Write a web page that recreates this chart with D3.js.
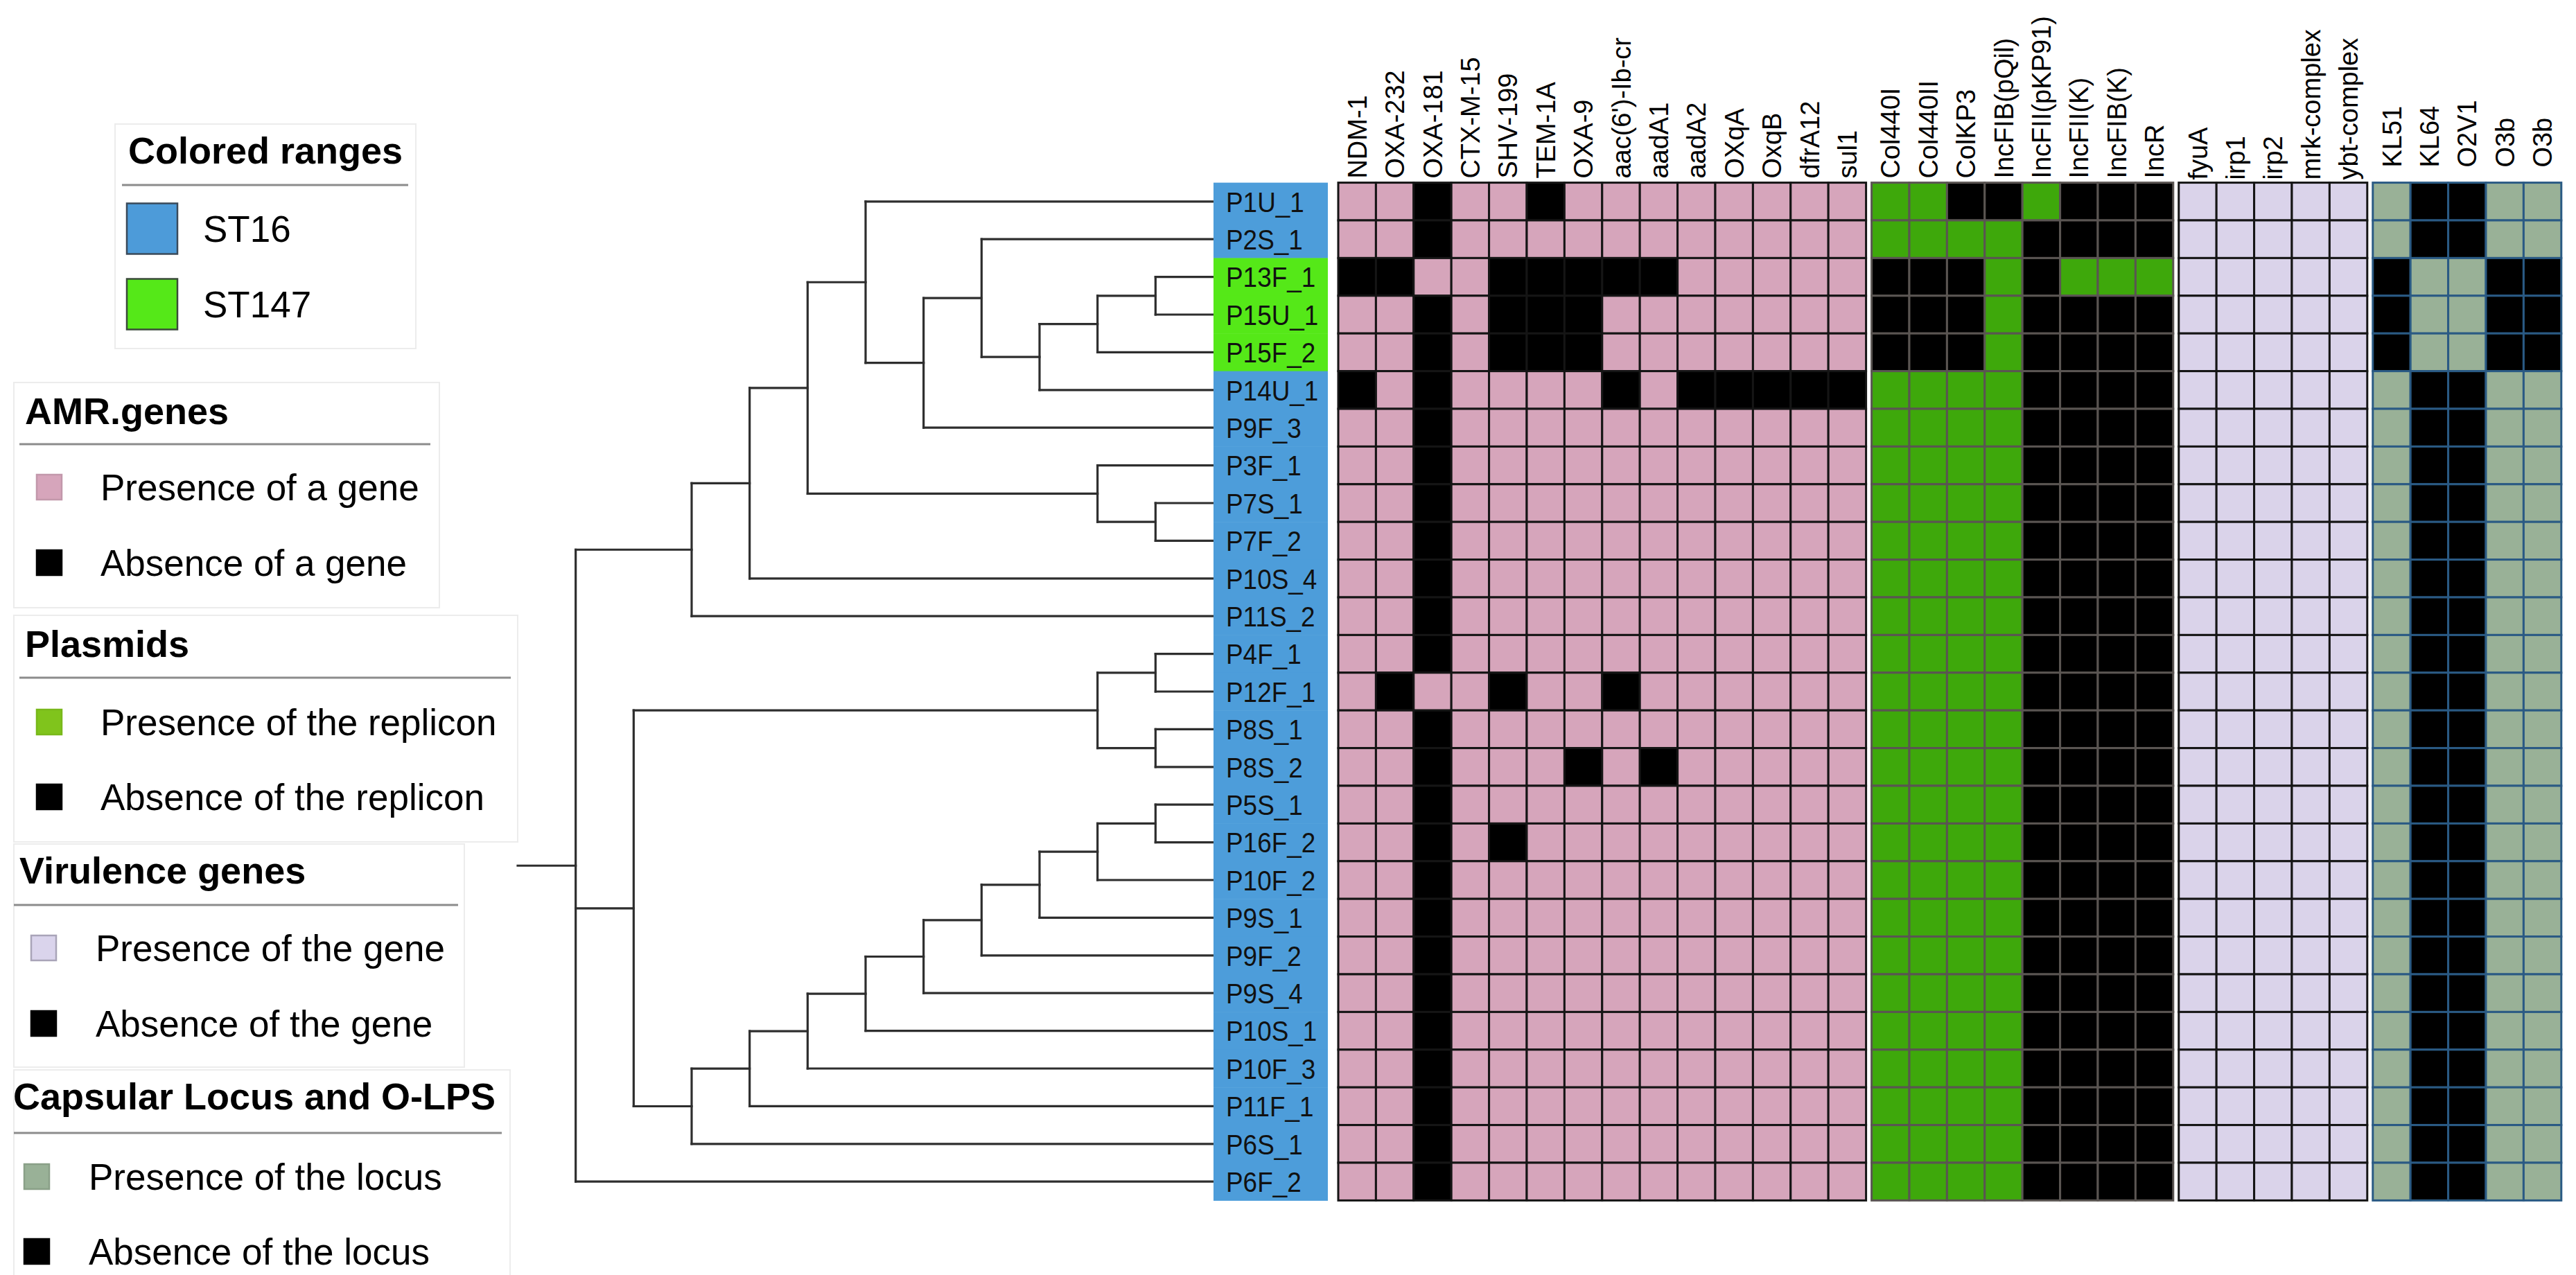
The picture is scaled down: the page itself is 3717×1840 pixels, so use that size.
<!DOCTYPE html>
<html>
<head>
<meta charset="utf-8">
<script src="https://cdn.jsdelivr.net/npm/d3@7"></script>
<style>
body{margin:0;background:#fff;}
svg{display:block;font-family:"Liberation Sans",Arial,Helvetica,sans-serif;}
</style>
</head>
<body>
<div id="chart"></div>
<script>
// ---- data ----
const samples = ["P1U_1","P2S_1","P13F_1","P15U_1","P15F_2","P14U_1","P9F_3","P3F_1","P7S_1","P7F_2",
  "P10S_4","P11S_2","P4F_1","P12F_1","P8S_1","P8S_2","P5S_1","P16F_2","P10F_2","P9S_1","P9F_2",
  "P9S_4","P10S_1","P10F_3","P11F_1","P6S_1","P6F_2"];
const st147 = ["P13F_1","P15U_1","P15F_2"];

// tree topology (cladogram, tips in the order of samples)
const cladeTop = "((((P1U_1,((P2S_1,(((P13F_1,P15U_1),P15F_2),P14U_1)),P9F_3)),(P3F_1,(P7S_1,P7F_2))),P10S_4),P11S_2)";
const cladeBottom = "(((P4F_1,P12F_1),(P8S_1,P8S_2)),(((((((((P5S_1,P16F_2),P10F_2),P9S_1),P9F_2),P9S_4),P10S_1),P10F_3),P11F_1),P6S_1))";
const treeNewick = "(" + cladeTop + "," + cladeBottom + ",P6F_2);";

const amrGenes = ["NDM-1","OXA-232","OXA-181","CTX-M-15","SHV-199","TEM-1A","OXA-9","aac(6')-Ib-cr","aadA1","aadA2","OXqA","OxqB","dfrA12","sul1"];
const amrData = [
  [1,1,0,1,1,0,1,1,1,1,1,1,1,1],
  [1,1,0,1,1,1,1,1,1,1,1,1,1,1],
  [0,0,1,1,0,0,0,0,0,1,1,1,1,1],
  [1,1,0,1,0,0,0,1,1,1,1,1,1,1],
  [1,1,0,1,0,0,0,1,1,1,1,1,1,1],
  [0,1,0,1,1,1,1,0,1,0,0,0,0,0],
  [1,1,0,1,1,1,1,1,1,1,1,1,1,1],
  [1,1,0,1,1,1,1,1,1,1,1,1,1,1],
  [1,1,0,1,1,1,1,1,1,1,1,1,1,1],
  [1,1,0,1,1,1,1,1,1,1,1,1,1,1],
  [1,1,0,1,1,1,1,1,1,1,1,1,1,1],
  [1,1,0,1,1,1,1,1,1,1,1,1,1,1],
  [1,1,0,1,1,1,1,1,1,1,1,1,1,1],
  [1,0,1,1,0,1,1,0,1,1,1,1,1,1],
  [1,1,0,1,1,1,1,1,1,1,1,1,1,1],
  [1,1,0,1,1,1,0,1,0,1,1,1,1,1],
  [1,1,0,1,1,1,1,1,1,1,1,1,1,1],
  [1,1,0,1,0,1,1,1,1,1,1,1,1,1],
  [1,1,0,1,1,1,1,1,1,1,1,1,1,1],
  [1,1,0,1,1,1,1,1,1,1,1,1,1,1],
  [1,1,0,1,1,1,1,1,1,1,1,1,1,1],
  [1,1,0,1,1,1,1,1,1,1,1,1,1,1],
  [1,1,0,1,1,1,1,1,1,1,1,1,1,1],
  [1,1,0,1,1,1,1,1,1,1,1,1,1,1],
  [1,1,0,1,1,1,1,1,1,1,1,1,1,1],
  [1,1,0,1,1,1,1,1,1,1,1,1,1,1],
  [1,1,0,1,1,1,1,1,1,1,1,1,1,1]
];

const plasmids = ["Col440I","Col440II","ColKP3","IncFIB(pQil)","IncFII(pKP91)","IncFII(K)","IncFIB(K)","IncR"];
const plasmidData = [
  [1,1,0,0,1,0,0,0],
  [1,1,1,1,0,0,0,0],
  [0,0,0,1,0,1,1,1],
  [0,0,0,1,0,0,0,0],
  [0,0,0,1,0,0,0,0],
  [1,1,1,1,0,0,0,0],[1,1,1,1,0,0,0,0],[1,1,1,1,0,0,0,0],[1,1,1,1,0,0,0,0],[1,1,1,1,0,0,0,0],
  [1,1,1,1,0,0,0,0],[1,1,1,1,0,0,0,0],[1,1,1,1,0,0,0,0],[1,1,1,1,0,0,0,0],[1,1,1,1,0,0,0,0],
  [1,1,1,1,0,0,0,0],[1,1,1,1,0,0,0,0],[1,1,1,1,0,0,0,0],[1,1,1,1,0,0,0,0],[1,1,1,1,0,0,0,0],
  [1,1,1,1,0,0,0,0],[1,1,1,1,0,0,0,0],[1,1,1,1,0,0,0,0],[1,1,1,1,0,0,0,0],[1,1,1,1,0,0,0,0],
  [1,1,1,1,0,0,0,0],[1,1,1,1,0,0,0,0]
];

const virulence = ["fyuA","irp1","irp2","mrk-complex","ybt-complex"];
const virulenceData = samples.map(() => [1,1,1,1,1]);

const locus = ["KL51","KL64","O2V1","O3b","O3b"];
const locusST16 = [1,0,0,1,1];
const locusST147 = [0,1,1,0,0];
const locusData = samples.map(s => st147.includes(s) ? locusST147 : locusST16);

const legendTitles = ["Colored ranges","AMR.genes","Plasmids","Virulence genes","Capsular Locus and O-LPS"];
const legendItems = [
  ["ST16","ST147"],
  ["Presence of a gene","Absence of a gene"],
  ["Presence of the replicon","Absence of the replicon"],
  ["Presence of the gene","Absence of the gene"],
  ["Presence of the locus","Absence of the locus"]
];

// ---- layout ----
const width = 3717, height = 1840;
const cell = 54.4;
const heatTop = 263.6;
const stripX = 1751, stripW = 165;
const heatX = 1931, blockGap = 8;

const svg = d3.select("#chart").append("svg")
  .attr("width", width).attr("height", height)
  .attr("viewBox", [0, 0, width, height]);

const y = d3.scaleBand()
  .domain(samples)
  .range([heatTop, heatTop + samples.length * cell]);

// ---- tree ----
function parseNewick(s) {
  let i = 0;
  function node() {
    const n = {};
    if (s[i] === "(") {
      n.children = [];
      i++;
      n.children.push(node());
      while (s[i] === ",") { i++; n.children.push(node()); }
      i++; // ')'
    }
    let name = "";
    while (i < s.length && !",();".includes(s[i])) name += s[i++];
    n.name = name;
    return n;
  }
  return node();
}

const root = d3.hierarchy(parseNewick(treeNewick));
const tx = d3.scaleLinear().domain([root.height + 1, 0]).range([747, stripX]);

root.eachAfter(n => {
  n.px = tx(n.height);
  n.py = n.children
    ? (n.children[0].py + n.children[n.children.length - 1].py) / 2
    : y(n.data.name) + y.bandwidth() / 2;
});

const treeG = svg.append("g")
  .attr("fill", "none")
  .attr("stroke", "#2e2e2e")
  .attr("stroke-width", 3.2)
  .attr("stroke-linecap", "square");

// root stub
treeG.append("path").attr("d", `M${tx(root.height + 1)},${root.py}H${root.px}`);

root.descendants().filter(n => n.children).forEach(n => {
  const c = n.children;
  treeG.append("path").attr("d", `M${n.px},${c[0].py}V${c[c.length - 1].py}`);
  c.forEach(ch => treeG.append("path").attr("d", `M${n.px},${ch.py}H${ch.px}`));
});

// ---- sample label strip ----
const strip = svg.append("g");
strip.selectAll("rect")
  .data(samples)
  .join("rect")
    .attr("x", stripX)
    .attr("y", d => y(d))
    .attr("width", stripW)
    .attr("height", y.bandwidth() + 0.5)
    .attr("fill", d => st147.includes(d) ? "#55e818" : "#4d9dda");

strip.selectAll("text")
  .data(samples)
  .join("text")
    .attr("transform", d => `translate(${stripX + 18},${y(d) + y.bandwidth() / 2}) scale(0.9,1)`)
    .attr("dy", "0.36em")
    .attr("font-size", 41)
    .attr("fill", "#111")
    .text(d => d);

// ---- heatmap blocks ----
const blocks = [
  {cols: amrGenes, data: amrData, on: "#d6a5bb", grid: "#151515", labelGap: 6},
  {cols: plasmids, data: plasmidData, on: "#3ea80b", grid: "#5a5552", labelGap: 6},
  {cols: virulence, data: virulenceData, on: "#dad3ea", grid: "#151515", labelGap: 4},
  {cols: locus, data: locusData, on: "#99b197", grid: "#2a5a84", labelGap: 22}
];

let bx = heatX;
blocks.forEach(b => {
  const x = d3.scaleBand()
    .domain(d3.range(b.cols.length))
    .range([bx, bx + b.cols.length * cell]);
  bx += b.cols.length * cell + blockGap;

  const g = svg.append("g");
  samples.forEach((s, r) => {
    g.selectAll(null)
      .data(b.data[r])
      .join("rect")
        .attr("x", (d, i) => x(i))
        .attr("y", y(s))
        .attr("width", x.bandwidth())
        .attr("height", y.bandwidth())
        .attr("fill", d => d ? b.on : "#000")
        .attr("stroke", b.grid)
        .attr("stroke-width", 3);
  });

  svg.append("g")
    .selectAll("text")
    .data(b.cols)
    .join("text")
      .attr("transform", (d, i) => `translate(${x(i) + x.bandwidth() / 2},${heatTop - b.labelGap}) rotate(-90)`)
      .attr("dy", "0.36em")
      .attr("font-size", 38)
      .attr("fill", "#000")
      .text(d => d);
});

// ---- legends ----
const legendLayout = [
  {box: [166, 179, 434, 324], tx: 185, tb: 236, line: [176, 589, 267], sx: 183, ss: 73, ix: 293, iy: [330, 439]},
  {box: [20, 552, 614, 325], tx: 36, tb: 612, line: [28, 621, 641], sx: 53, ss: 36, ix: 145, iy: [703, 812]},
  {box: [20, 888, 727, 327], tx: 36, tb: 948, line: [28, 737, 978], sx: 53, ss: 36, ix: 145, iy: [1042, 1150]},
  {box: [20, 1218, 650, 322], tx: 28, tb: 1275, line: [20, 661, 1306], sx: 45, ss: 36, ix: 138, iy: [1368, 1477]},
  {box: [20, 1544, 716, 300], tx: 19, tb: 1601, line: [20, 724, 1635], sx: 35, ss: 36, ix: 128, iy: [1698, 1806]}
];
const legendColors = [
  ["#4d9bd9", "#55e818"],
  ["#d6a5bb", "#000"],
  ["#80c41c", "#000"],
  ["#dad4ec", "#000"],
  ["#99b197", "#000"]
];
const legendStrokes = [
  ["#3a4a5a", "#3a4a3a"],
  ["#c298ab", "#000"],
  ["#78b81a", "#000"],
  ["#a9a4b8", "#000"],
  ["#8aa088", "#000"]
];

legendTitles.forEach((t, k) => {
  const L = legendLayout[k];
  const g = svg.append("g");
  g.append("rect")
    .attr("x", L.box[0]).attr("y", L.box[1])
    .attr("width", L.box[2]).attr("height", L.box[3])
    .attr("fill", "#fff")
    .attr("stroke", "#ececec")
    .attr("stroke-width", 2);
  g.append("text")
    .attr("x", L.tx).attr("y", L.tb)
    .attr("font-size", 54)
    .attr("font-weight", "bold")
    .attr("fill", "#000")
    .text(t);
  g.append("line")
    .attr("x1", L.line[0]).attr("x2", L.line[1])
    .attr("y1", L.line[2]).attr("y2", L.line[2])
    .attr("stroke", "#8c8c8c")
    .attr("stroke-width", 3);
  legendItems[k].forEach((lab, j) => {
    g.append("rect")
      .attr("x", L.sx).attr("y", L.iy[j] - L.ss / 2)
      .attr("width", L.ss).attr("height", L.ss)
      .attr("fill", legendColors[k][j])
      .attr("stroke", legendStrokes[k][j])
      .attr("stroke-width", 2.5);
    g.append("text")
      .attr("x", L.ix).attr("y", L.iy[j])
      .attr("dy", "0.36em")
      .attr("font-size", 53)
      .attr("fill", "#000")
      .text(lab);
  });
});
</script>
</body>
</html>
